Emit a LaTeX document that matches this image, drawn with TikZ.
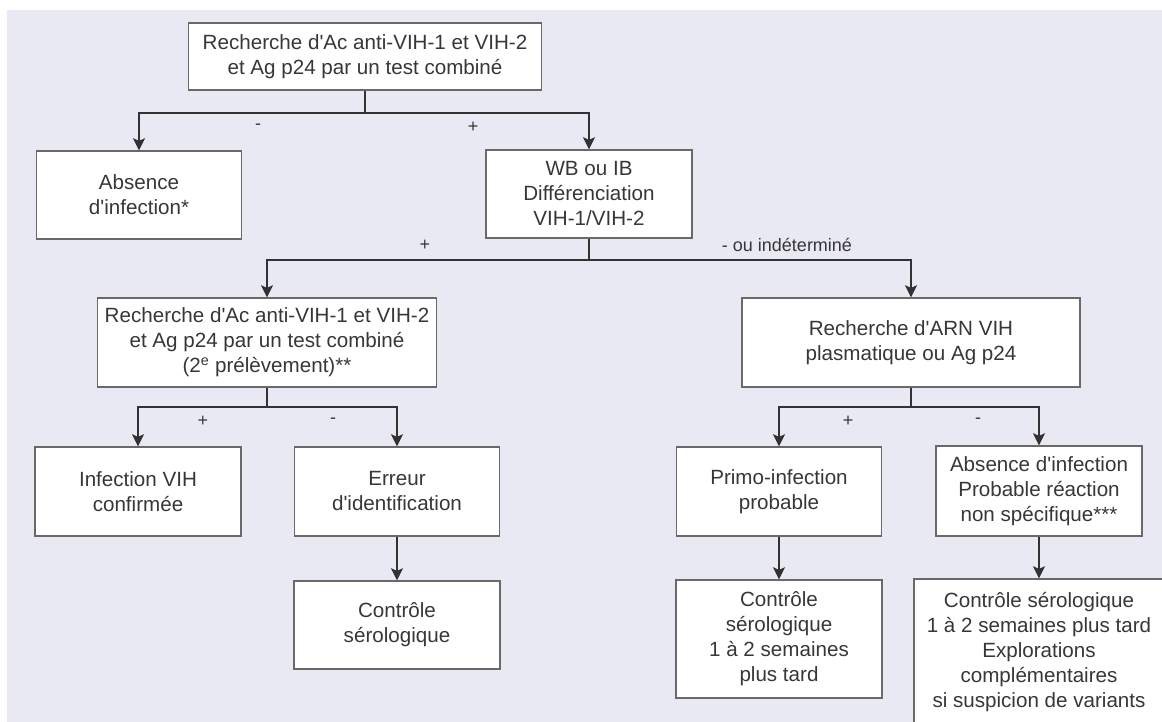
\documentclass[tikz,border=0pt]{standalone}
\usepackage{fontspec}
\setmainfont{Liberation Sans}[Ligatures=TeXOff]
\usetikzlibrary{arrows.meta}
\definecolor{bgc}{RGB}{233,233,244}
\definecolor{txt}{RGB}{55,55,55}
\definecolor{boxc}{RGB}{105,105,105}
\definecolor{linec}{RGB}{50,50,50}
\begin{document}
\begin{tikzpicture}[x=1pt,y=-1pt,
  box/.style={draw=boxc, fill=white, line width=1.4pt, align=center, inner sep=0pt, text=txt, font=\fontsize{20.6}{25}\selectfont},
  lbl/.style={text=txt, font=\fontsize{18}{20}\selectfont, inner sep=0pt},
  seg/.style={draw=linec, line width=1.8pt},
  arr/.style={seg, -{Stealth[length=12pt,width=12pt,inset=2.5pt]}}]
\useasboundingbox (0,0) rectangle (1162,722);
\clip (0,0) rectangle (1162,722);
\fill[bgc] (7,10) rectangle (1162,722);

\node[box, minimum width=353pt, minimum height=67pt] (top) at (365,56.5) {Recherche d'Ac anti-VIH-1 et VIH-2\\et Ag p24 par un test combiné};
\node[box, minimum width=205pt, minimum height=88pt] (abs) at (139,195) {Absence\\d'infection*};
\node[box, minimum width=206pt, minimum height=88pt] (wb) at (589,194) {WB ou IB\\Différenciation\\VIH-1/VIH-2};
\node[box, minimum width=339pt, minimum height=89pt] (t2) at (267,342.5) {Recherche d'Ac anti-VIH-1 et VIH-2\\et Ag p24 par un test combiné\\(2\textsuperscript{e} prélèvement)**};
\node[box, minimum width=338pt, minimum height=89pt] (arn) at (911,342.5) {Recherche d'ARN VIH\\plasmatique ou Ag p24};
\node[box, minimum width=206pt, minimum height=89pt] (inf) at (138,491.5) {Infection VIH\\confirmée};
\node[box, minimum width=205pt, minimum height=89pt] (err) at (397,491.5) {Erreur\\d'identification};
\node[box, minimum width=206pt, minimum height=88pt] (ctl1) at (397,625) {Contrôle\\sérologique};
\node[box, minimum width=205pt, minimum height=89pt] (primo) at (779,491.5) {Primo-infection\\probable};
\node[box, minimum width=206pt, minimum height=90pt] (abs2) at (1039,491) {Absence d'infection\\Probable réaction\\non spécifique***};
\node[box, minimum width=206pt, minimum height=118pt] (ctl3) at (779,639) {Contrôle\\sérologique\\1 à 2 semaines\\plus tard};
\node[box, minimum width=250pt, minimum height=146pt] (ctl4) at (1039,652) {Contrôle sérologique\\1 à 2 semaines plus tard\\Explorations\\complémentaires\\si suspicion de variants};

\coordinate (j1) at (365,113);
\coordinate (j2) at (589,260);
\coordinate (j3) at (267,407);
\coordinate (j4) at (911,407);

\draw[seg] (top.south) -- (j1);
\draw[arr] (j1) -| (abs.north);
\draw[arr] (j1) -| (wb.north);

\draw[seg] (wb.south) -- (j2);
\draw[arr] (j2) -| (t2.north);
\draw[arr] (j2) -| (arn.north);

\draw[seg] (t2.south) -- (j3);
\draw[arr] (j3) -| (inf.north);
\draw[arr] (j3) -| (err.north);

\draw[seg] (arn.south) -- (j4);
\draw[arr] (j4) -| (primo.north);
\draw[arr] (j4) -| (abs2.north);

\draw[arr] (err.south) -- (ctl1.north);
\draw[arr] (primo.south) -- (ctl3.north);
\draw[arr] (abs2.south) -- (ctl4.north);

\node[lbl] (la) at (258,127) {-};
\node[lbl] (lb) at (473,127) {+};
\node[lbl] (lc) at (425,245) {+};
\node[lbl] (ld) at (787,245) {- ou indéterminé};
\node[lbl] (le) at (203,421) {+};
\node[lbl] (lf) at (333,421) {-};
\node[lbl] (lg) at (848,421) {+};
\node[lbl] (lh) at (978,421) {-};
\end{tikzpicture}
\end{document}
